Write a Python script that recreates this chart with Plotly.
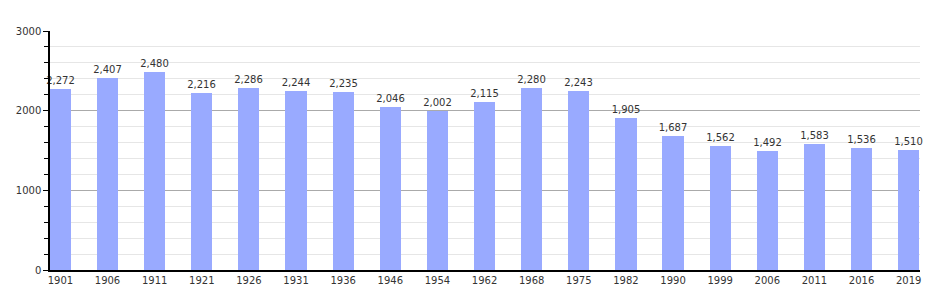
import plotly.graph_objects as go

years = ["1901", "1906", "1911", "1921", "1926", "1931", "1936", "1946", "1954", "1962",
         "1968", "1975", "1982", "1990", "1999", "2006", "2011", "2016", "2019"]
population = [2272, 2407, 2480, 2216, 2286, 2244, 2235, 2046, 2002, 2115,
              2280, 2243, 1905, 1687, 1562, 1492, 1583, 1536, 1510]
labels = [f"{v:,}" for v in population]

fig = go.Figure()
fig.add_trace(go.Bar(
    x=list(range(len(years))), y=population,
    width=0.45,
    marker=dict(color="rgb(153,170,255)", line=dict(width=0)),
    text=labels, textposition="outside", cliponaxis=False,
    textfont=dict(family="DejaVu Sans", size=10, color="#333"),
))
fig.update_layout(
    width=950, height=300,
    margin=dict(l=50, r=30, t=31, b=30),
    paper_bgcolor="white", plot_bgcolor="white",
    showlegend=False, bargap=0,
    font=dict(family="DejaVu Sans", size=10, color="#333"),
    uniformtext=dict(minsize=9, mode="show"),
)
fig.update_xaxes(
    tickmode="array", tickvals=list(range(len(years))), ticktext=years,
    range=[-0.22, 18.24], showgrid=False, showline=True, linecolor="black", linewidth=1.5,
    ticks="", tickfont=dict(size=10, color="#333"), zeroline=False,
)
fig.update_yaxes(
    range=[0, 3000], tickvals=[0, 1000, 2000, 3000],
    showgrid=True, gridcolor="#aaaaaa", gridwidth=1,
    showline=True, linecolor="black", linewidth=1.5,
    ticks="outside", ticklen=5, tickcolor="black",
    minor=dict(dtick=200, ticks="outside", ticklen=4, tickcolor="black",
               showgrid=True, gridcolor="#e6e6e6", gridwidth=1),
    zeroline=False, tickfont=dict(size=10, color="#333"),
)
fig.write_html("out.html")
